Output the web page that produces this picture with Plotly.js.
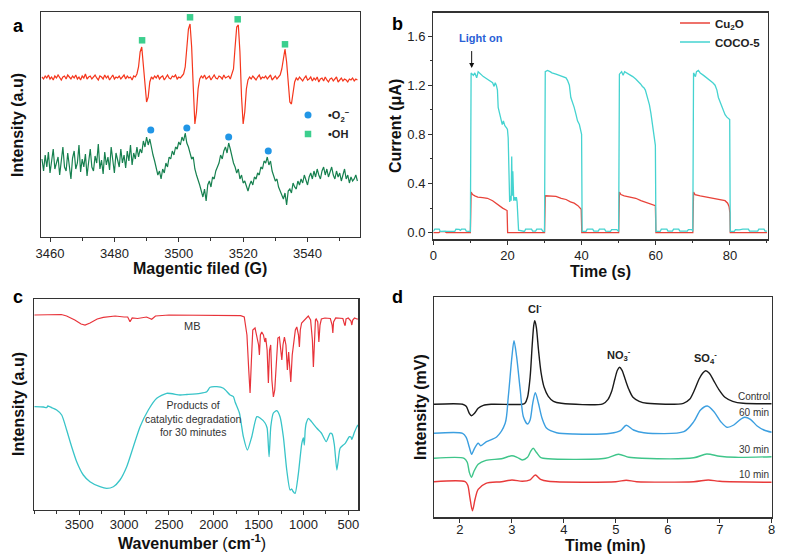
<!DOCTYPE html>
<html><head><meta charset="utf-8">
<script src="https://cdn.plot.ly/plotly-3.0.1.min.js"></script>
<style>html,body{margin:0;padding:0;background:#fff}#chart{width:787px;height:554px}</style>
</head><body><div id="chart"></div>
<script>
// ---------- Panel a: EPR spectra (evenly sampled, start 3457.5 G, step 0.5 G) ----------
const eprStart = 3457.5, eprStep = 0.5;
const eprOH = [
160,158,161,159,162,158,160,157,161,159,
162,159,157,160,161,158,162,160,158,161,
159,162,158,160,157,161,159,163,158,160,
161,158,160,162,159,157,161,160,158,162,
159,161,157,160,162,158,160,159,161,158,
160,162,158,161,159,160,157,161,160,163,
170,185,190,172,150,135,140,155,160,158,
161,159,162,158,160,161,157,160,162,159,
158,161,160,162,158,160,159,161,163,170,
190,208,213,190,150,113,125,148,158,161,
159,162,158,160,161,157,160,162,159,158,
161,160,158,162,159,160,161,158,162,168,
190,210,212,185,140,113,125,148,157,160,
158,161,159,157,160,162,158,160,159,161,
158,160,162,157,159,161,158,160,162,168,
180,188,175,155,135,133,145,155,159,157,
160,158,156,159,161,157,158,160,156,159,
157,160,155,158,159,156,160,157,155,158,
159,156,158,160,155,157,159,156,158,157,
155,158,157,159,156,158,157];
const eprO2 = [
78,66,82,70,85,64,76,88,68,74,
80,62,77,90,70,66,84,72,58,79,
86,68,74,92,65,78,70,83,61,75,
88,70,66,81,74,93,68,77,63,85,
72,80,67,90,75,64,84,78,70,88,
74,82,69,86,76,92,72,84,78,90,
80,88,84,96,90,100,92,98,88,82,
76,70,62,66,58,68,64,74,70,80,
78,86,82,90,88,95,92,100,96,104,
94,90,84,78,80,68,62,58,52,46,
40,48,36,52,56,50,60,58,66,70,
74,82,78,86,90,84,94,88,80,74,
70,64,68,58,62,54,56,50,46,52,
56,52,60,58,64,62,70,68,76,74,
80,72,76,66,62,56,58,50,46,42,
38,44,32,46,48,44,54,50,48,56,
52,58,54,62,56,52,60,64,58,66,
60,68,62,58,66,70,62,68,60,64,
70,62,58,66,60,64,56,62,68,58,
62,54,60,56,58,62,56];
const ohMarkG = [3488.6, 3503.5, 3518.3, 3533.0];
const ohMarkI = [196.7, 219.7, 217.7, 192.7];
const o2MarkG = [3491.3, 3502.5, 3515.5, 3527.8];
const o2MarkI = [107, 109, 100, 86];
const aTicks = [3460, 3480, 3500, 3520, 3540];

// ---------- Panel b: photocurrent ----------
const cocoT = [0,0.4,1.6,1.9,3.2,3.6,5.8,6.1,7.0,7.3,7.6,8.6,8.9,10.0,
 10.2,10.8,11.2,11.7,12.1,12.8,13.5,14.5,15.5,16.0,16.4,16.7,17.0,17.3,17.5,17.9,18.2,18.4,18.6,18.9,19.3,19.8,20.0,20.2,20.4,20.6,20.8,21.0,21.15,21.3,21.45,21.7,22.0,22.2,22.4,22.6,
 23.0,24.6,24.9,26.5,26.8,27.6,27.9,29.2,29.5,30.0,
 30.2,30.8,31.5,32.0,33.1,34.0,34.9,35.8,36.2,36.7,37.1,37.6,38.0,38.5,38.9,39.4,39.7,40.0,40.15,
 41.2,41.5,43.0,43.3,44.5,44.8,46.2,46.5,47.8,48.1,49.5,50.0,
 50.2,50.8,51.2,51.6,52.2,52.8,53.8,54.6,55.3,55.9,56.4,56.8,57.2,57.7,58.3,58.7,59.1,59.5,59.9,60.05,
 61.2,61.5,63.0,63.3,64.5,64.8,66.2,66.5,68.5,68.8,69.8,70.0,
 70.2,70.7,71.0,71.5,72.0,72.9,73.8,74.7,75.4,76.0,76.5,76.9,77.4,77.8,78.3,78.7,79.2,79.6,79.95,80.1,
 81.2,81.5,82.5,83.5,85.0,85.3,87.5,87.8,89.2,89.5,90];
const cocoI = [0.01,0.028,0.028,0.01,0.012,0.01,0.01,0.028,0.026,0.018,0.028,0.028,0.012,0.01,
 1.30,1.28,1.30,1.26,1.31,1.29,1.27,1.25,1.23,1.22,1.19,1.22,1.20,1.16,1.02,0.96,0.93,0.90,0.88,0.91,0.87,0.85,0.84,0.77,0.50,0.25,0.30,0.26,0.62,0.30,0.50,0.26,0.29,0.26,0.29,0.25,
 0.02,0.01,0.028,0.028,0.012,0.012,0.028,0.028,0.012,0.01,
 1.31,1.32,1.31,1.30,1.29,1.28,1.27,1.26,1.24,1.20,1.10,1.06,1.02,0.96,0.91,0.88,0.83,0.80,0.01,
 0.01,0.028,0.028,0.012,0.012,0.028,0.028,0.012,0.01,0.025,0.025,0.01,
 1.29,1.31,1.28,1.31,1.30,1.29,1.27,1.25,1.23,1.21,1.19,1.18,1.16,1.11,1.04,0.97,0.88,0.78,0.71,0.01,
 0.01,0.028,0.028,0.012,0.012,0.028,0.028,0.012,0.012,0.025,0.025,0.01,
 1.30,1.27,1.31,1.32,1.30,1.28,1.26,1.24,1.22,1.20,1.16,1.10,1.06,1.02,0.99,0.96,0.94,0.93,0.92,0.01,
 0.01,0.025,0.022,0.028,0.028,0.012,0.012,0.028,0.028,0.012,0.012];
const cu2oT = [0,1.5,1.8,3.2,3.5,6,8,10.0,
 10.2,10.6,11.2,12.0,13.3,14.6,16.0,17.3,18.7,19.9,20.05,
 22,26,30.0,
 30.2,31.5,33.1,34.5,35.8,37.0,38.0,39.0,39.9,40.05,
 45,50.0,
 50.2,50.6,51.5,53.0,54.6,56.0,57.7,58.8,59.9,60.05,
 65,70.0,
 70.2,70.6,72.0,73.8,75.2,76.5,77.6,78.7,79.4,79.8,80.0,80.1,
 85,90];
const cu2oI = [0,0,0.008,0.008,0,0,0,0,
 0.33,0.31,0.30,0.29,0.285,0.28,0.26,0.23,0.20,0.18,0,
 0,0,0,
 0.30,0.30,0.295,0.28,0.27,0.25,0.24,0.22,0.19,0,
 0,0,
 0.33,0.31,0.30,0.29,0.28,0.26,0.24,0.23,0.22,0,
 0,0,
 0.33,0.31,0.30,0.29,0.28,0.27,0.265,0.26,0.24,0.21,0.16,0,
 0,0];

// ---------- Panel c: FTIR ----------
const mbWn = [4000,3800,3700,3641,3550,3480,3436,3380,3300,3232,3100,3000,2960,2934,2910,2850,2750,2692,2650,2500,2000,1700,1660,1651,1630,1610,1595,1580,1565,1540,1520,1500,1491,1480,1465,1446,1430,1420,1405,1391,1378,1365,1352,1335,1320,1300,1285,1268,1250,1241,1228,1212,1195,1179,1165,1150,1141,1125,1112,1090,1074,1055,1045,1035,1020,990,960,946,920,900,889,878,866,858,840,828,815,800,760,700,680,672,664,640,600,560,540,534,525,500,470,460,450,430,404,390];
const mbT  = [195,195,195.5,194,190,186,185,187,191,192.7,194,193,193,188.3,192,191.5,193,190.7,194,195,194.3,194.3,193,188,175,140,117,150,180,182,175,165,155,175,178,175,168,172,160,127,160,165,130,113,120,155,172,173,158,150,165,173,165,140,158,140,128,155,167,180,183,175,163,180,187,190,193,194,190,170,143,170,190,191,188,168,185,191,192,191.5,185,177,188,192,192,191.5,185,184.5,191,192,189,185,190,192,191,191];
const prodWn = [4000,3900,3864,3850,3800,3752,3696,3641,3585,3529,3455,3381,3269,3194,3120,3046,2971,2897,2822,2730,2636,2525,2376,2300,2153,2078,2041,1966,1892,1818,1781,1762,1714,1670,1625,1576,1520,1484,1428,1405,1383,1364,1335,1298,1261,1224,1186,1149,1130,1119,1093,1056,1018,1000,990,980,969,944,910,850,800,746,702,680,655,627,600,590,534,487,470,460,430,404,390];
const prodT  = [103.3,103,102.3,104,102,100,95,80,63.3,48.3,35,28.3,23.3,21.7,23.3,30,43.3,63.3,83.3,100,111.7,116.7,115,115.5,116.7,118.3,122.7,123.3,121.7,115,113.3,108,97,73.3,60,73.3,93.3,92,87,82,53.3,83.3,97,99.3,93.3,73.3,40,20,21,19,16.7,36.7,66.7,72,65,80,86.7,91.7,88.3,81.7,77,68.3,76.7,76,65,40,58,62,66.7,73.3,73,70.7,78,83.3,85];
const cTicks = [3500,3000,2500,2000,1500,1000,500];

// ---------- Panel d: ion chromatograms ----------
const ctrlT = [1.5,2.05,2.12,2.18,2.22,2.28,2.35,2.45,2.6,3.2,3.25,3.3,3.35,3.39,3.42,3.44,3.47,3.51,3.56,3.62,3.7,3.8,3.95,4.75,4.85,4.92,4.98,5.03,5.07,5.12,5.18,5.25,5.33,5.45,5.6,6.3,6.42,6.52,6.6,6.67,6.73,6.8,6.88,6.98,7.1,7.25,7.45,8];
const ctrlV = [113,113,111,104,101.6,104,109,112,113,113,114,120,140,172,192,196.6,190,168,145,130,121,116,114,113.5,118,126,138,147,150,147,138,128,120,116,114,114,118,128,138,144,146.6,144,137,128,120,116,114,113.5];
const m60T = [1.5,2.05,2.12,2.18,2.225,2.28,2.35,2.4,2.51,2.71,2.87,2.93,3.0,3.04,3.09,3.16,3.22,3.3,3.35,3.4,3.45,3.51,3.58,3.67,3.86,4.19,4.9,5.09,5.2,5.34,5.54,6.31,6.5,6.63,6.76,6.89,7.02,7.14,7.27,7.4,7.48,7.59,7.72,7.85,8];
const m60V = [84,84,80,70,63,69,74,71.6,75.6,80.6,94,120.6,160.6,176.6,160.6,127.3,100.6,93.3,97.3,114,124.6,114,99,89,84.6,83.3,84,86.6,92,87.3,84.6,85.6,95.6,107.3,111.3,105.6,95.6,90,92.3,98,100,98,91.3,87.3,85];
const m30T = [1.5,2.08,2.14,2.18,2.22,2.27,2.35,2.5,2.8,3.0,3.1,3.2,3.3,3.36,3.41,3.47,3.55,3.7,4.8,5.05,5.25,5.5,6.5,6.75,7.0,7.3,8];
const m30V = [59,59,55,45,40,46,53,57,58.5,61.6,60,57.3,60,66,69,65,60,58.5,59,63,60,59,59.5,63.3,61,60,60.6];
const m10T = [1.5,2.1,2.15,2.19,2.24,2.29,2.35,2.5,2.8,3.0,3.2,3.35,3.45,3.55,3.7,5.0,5.2,5.4,6.5,6.78,7.0,8];
const m10V = [35.6,35.6,32,20,6.6,18,28,34,35.6,37.3,36,37.5,42.3,38,36,35.6,37,35.6,35.6,37.3,36,35];

const W = 787, H = 554;
const FONT = 'Liberation Sans, Arial, Helvetica, sans-serif';
const axLine = {showline:true, mirror:true, linecolor:'#333', linewidth:1.3, showgrid:false, zeroline:false};
const tf = {family: FONT, size: 13, color:'#222'};
const ttf = {family: FONT, size: 16, color:'#111', weight: 'bold'};

const traces = [
  // panel a
  {type:'scatter', mode:'lines', x0:eprStart, dx:eprStep, y:eprOH, xaxis:'x', yaxis:'y',
   line:{color:'#f5361c', width:1.2}, showlegend:false, hoverinfo:'skip'},
  {type:'scatter', mode:'lines', x0:eprStart, dx:eprStep, y:eprO2, xaxis:'x', yaxis:'y',
   line:{color:'#16804f', width:1.2}, showlegend:false, hoverinfo:'skip'},
  {type:'scatter', mode:'markers', x:o2MarkG, y:o2MarkI, xaxis:'x', yaxis:'y', name:'•O<sub>2</sub><sup>−</sup>',
   marker:{symbol:'circle', size:7, color:'#2196e6'}, legend:'legend2'},
  {type:'scatter', mode:'markers', x:ohMarkG, y:ohMarkI, xaxis:'x', yaxis:'y', name:'•OH',
   marker:{symbol:'square', size:6.5, color:'#3ccf8e'}, legend:'legend2'},
  // panel b
  {type:'scatter', mode:'lines', x:cu2oT, y:cu2oI, xaxis:'x2', yaxis:'y2', name:'Cu<sub>2</sub>O',
   line:{color:'#e8433a', width:1.3}},
  {type:'scatter', mode:'lines', x:cocoT, y:cocoI, xaxis:'x2', yaxis:'y2', name:'COCO-5',
   line:{color:'#45d3d0', width:1.3}},
  // panel c
  {type:'scatter', mode:'lines', x:mbWn, y:mbT, xaxis:'x3', yaxis:'y3', line:{color:'#e8333a', width:1.2}, showlegend:false},
  {type:'scatter', mode:'lines', x:prodWn, y:prodT, xaxis:'x3', yaxis:'y3', line:{color:'#38c4c8', width:1.3, shape:'spline', smoothing:0.6}, showlegend:false},
  // panel d
  {type:'scatter', mode:'lines', x:ctrlT, y:ctrlV, xaxis:'x4', yaxis:'y4', line:{color:'#1a1a1a', width:1.4, shape:'spline', smoothing:0.8}, showlegend:false},
  {type:'scatter', mode:'lines', x:m60T, y:m60V, xaxis:'x4', yaxis:'y4', line:{color:'#3c9fe0', width:1.4, shape:'spline', smoothing:0.8}, showlegend:false},
  {type:'scatter', mode:'lines', x:m30T, y:m30V, xaxis:'x4', yaxis:'y4', line:{color:'#3fc58a', width:1.4, shape:'spline', smoothing:0.8}, showlegend:false},
  {type:'scatter', mode:'lines', x:m10T, y:m10V, xaxis:'x4', yaxis:'y4', line:{color:'#e83a3a', width:1.4, shape:'spline', smoothing:0.8}, showlegend:false}
];

function px(x){return x/W;}
function py(y){return 1 - y/H;}
function xTitle(text, cx, cy){
  return {text:text, xref:'paper', yref:'paper', x:px(cx), y:py(cy), xanchor:'center', yanchor:'middle', showarrow:false, font: ttf};
}
function yTitle(text, cx, cy){
  return {text:text, xref:'paper', yref:'paper', x:px(cx), y:py(cy), xanchor:'center', yanchor:'middle', textangle:-90, showarrow:false, font: ttf};
}

const layout = {
  width: W, height: H,
  margin: {l:0, r:0, t:0, b:0},
  paper_bgcolor:'#fff', plot_bgcolor:'#fff',
  font: {family: FONT, size: 13, color:'#222'},
  showlegend: true,
  xaxis: Object.assign({}, axLine, {domain:[px(41), px(360)], anchor:'y', range:[3457.2, 3556.3],
    tickvals: aTicks, ticks:'outside', ticklen:4, tickcolor:'#333', tickfont: tf,
    minor:{dtick:10, tick0:3460, ticks:'outside', ticklen:2.5, tickcolor:'#333'}}),
  yaxis: Object.assign({}, axLine, {domain:[py(237), py(12)], anchor:'x', range:[0, 225],
    showticklabels:false, ticks:''}),
  xaxis2: Object.assign({}, axLine, {domain:[px(433.3), px(767.7)], anchor:'y2', range:[0, 90.2],
    dtick:20, tick0:0, ticks:'outside', ticklen:4, tickcolor:'#333', tickfont: tf,
    minor:{dtick:10, ticks:'outside', ticklen:2.5, tickcolor:'#333'}}),
  yaxis2: Object.assign({}, axLine, {domain:[py(239.3), py(12.7)], anchor:'x2', range:[-0.054, 1.79],
    dtick:0.4, tick0:0, tickformat:'.1f', ticks:'outside', ticklen:4, tickcolor:'#333', tickfont: tf,
    minor:{dtick:0.2, ticks:'outside', ticklen:2.5, tickcolor:'#333'}}),
  xaxis3: Object.assign({}, axLine, {domain:[px(34), px(358.3)], anchor:'y3', range:[4005, 388],
    tickvals: cTicks, ticks:'outside', ticklen:4, tickcolor:'#333', tickfont: tf, ticklabelstandoff:-2,
    minor:{dtick:250, tick0:500, ticks:'outside', ticklen:2.5, tickcolor:'#333'}}),
  yaxis3: Object.assign({}, axLine, {domain:[py(510), py(299)], anchor:'x3', range:[0, 211],
    showticklabels:false, ticks:''}),
  xaxis4: Object.assign({}, axLine, {domain:[px(434), px(771.7)], anchor:'y4', range:[1.5, 8],
    dtick:1, tick0:0, ticks:'outside', ticklen:4, tickcolor:'#333', tickfont: tf, ticklabelstandoff:-4}),
  yaxis4: Object.assign({}, axLine, {domain:[py(517.3), py(297.3)], anchor:'x4', range:[0, 220],
    showticklabels:false, ticks:''}),
  legend: {x: px(675), y: py(8.5), xanchor:'left', yanchor:'top', bgcolor:'rgba(0,0,0,0)', borderwidth:0,
    font:{family: FONT, size: 11.5, color:'#222', weight:'bold'}, tracegroupgap:0},
  legend2: {x: px(288), y: py(100.5), xanchor:'left', yanchor:'top', bgcolor:'rgba(0,0,0,0)', borderwidth:0,
    font:{family: FONT, size: 11, color:'#222', weight:'bold'}, tracegroupgap:0},
  annotations: [
    {text:'a', xref:'paper', yref:'paper', x:px(11), y:py(14), showarrow:false, font:{family:FONT, size:18, weight:'bold', color:'#000'}},
    {text:'b', xref:'paper', yref:'paper', x:px(397), y:py(12), showarrow:false, font:{family:FONT, size:18, weight:'bold', color:'#000'}},
    {text:'c', xref:'paper', yref:'paper', x:px(11), y:py(297), showarrow:false, font:{family:FONT, size:18, weight:'bold', color:'#000'}},
    {text:'d', xref:'paper', yref:'paper', x:px(397), y:py(297), showarrow:false, font:{family:FONT, size:18, weight:'bold', color:'#000'}},
    // axis titles
    xTitle('Magentic filed (G)', 200, 268),
    yTitle('Intensity (a.u)', 18, 125),
    xTitle('Time (s)', 600, 271),
    yTitle('Current (μA)', 395, 126),
    xTitle('Wavenumber <span style="font-weight:normal">(</span>cm<sup>-1</sup><span style="font-weight:normal">)</span>', 192, 542),
    yTitle('Intensity (a.u)', 18, 404),
    xTitle('Time (min)', 605, 545),
    yTitle('Intensity (mV)', 420, 407),
    // panel b light on
    {text:'Light on', xref:'x2', yref:'y2', x:12.8, y:1.584, showarrow:false, font:{family:FONT, size:11, weight:'bold', color:'#2a5fd6'}},
    {text:'', xref:'x2', yref:'y2', x:10.35, y:1.34, axref:'x2', ayref:'y2', ax:10.35, ay:1.49,
     showarrow:true, arrowhead:2, arrowsize:1, arrowwidth:1, arrowcolor:'#111'},
    // panel c labels
    {text:'MB', xref:'x3', yref:'y3', x:2234, y:184, showarrow:false, font:{family:FONT, size:11, color:'#333'}},
    {text:'Products of<br>catalytic degradation<br>for 30 minutes', xref:'x3', yref:'y3', x:2234, y:91.7, showarrow:false,
     font:{family:FONT, size:10.5, color:'#333'}},
    // panel d labels
    {text:'Cl<sup>-</sup>', xref:'x4', yref:'y4', x:3.44, y:209, showarrow:false, font:{family:FONT, size:11, weight:'bold', color:'#222'}},
    {text:'NO<sub>3</sub><sup>-</sup>', xref:'x4', yref:'y4', x:5.07, y:162, showarrow:false, font:{family:FONT, size:11, weight:'bold', color:'#222'}},
    {text:'SO<sub>4</sub><sup>-</sup>', xref:'x4', yref:'y4', x:6.73, y:159.6, showarrow:false, font:{family:FONT, size:11, weight:'bold', color:'#222'}},
    {text:'Control', xref:'x4', yref:'y4', x:7.65, y:121, showarrow:false, font:{family:FONT, size:10, color:'#333'}},
    {text:'60 min', xref:'x4', yref:'y4', x:7.65, y:104.6, showarrow:false, font:{family:FONT, size:10, color:'#333'}},
    {text:'30 min', xref:'x4', yref:'y4', x:7.65, y:67.3, showarrow:false, font:{family:FONT, size:10, color:'#333'}},
    {text:'10 min', xref:'x4', yref:'y4', x:7.65, y:42.3, showarrow:false, font:{family:FONT, size:10, color:'#333'}}
  ]
};

Plotly.newPlot('chart', traces, layout, {staticPlot:true, displayModeBar:false});
</script></body></html>
